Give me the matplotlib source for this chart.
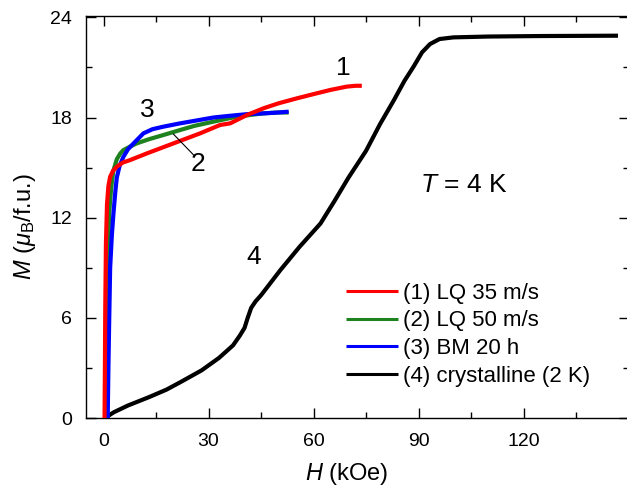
import matplotlib
matplotlib.use('Agg')
import matplotlib.pyplot as plt
from matplotlib.ticker import MultipleLocator, FixedLocator

plt.rcParams['font.family'] = ['Liberation Sans', 'DejaVu Sans']
plt.rcParams['mathtext.fontset'] = 'custom'
plt.rcParams['mathtext.rm'] = 'Liberation Sans'
plt.rcParams['mathtext.it'] = 'Liberation Sans:italic'

# (1) LQ 35 m/s
h1 = [0.3, 0.4, 0.5, 0.7, 1.0, 1.4, 1.9, 2.7, 3.8, 5.5, 7.6, 12.4, 20.0, 27.6, 31.0, 33.3,
      36.2, 41.0, 45.7, 50.0, 55.3, 60.0, 64.8, 69.5, 72.0, 73.8]
m1 = [0.0, 3.0, 6.5, 10.5, 12.8, 13.9, 14.45, 14.8, 15.05, 15.3, 15.45, 15.85, 16.45, 17.05, 17.35, 17.55,
      17.65, 18.15, 18.55, 18.85, 19.15, 19.4, 19.65, 19.85, 19.9, 19.9]
# (2) LQ 50 m/s
h2 = [0.6, 0.8, 1.0, 1.3, 1.7, 2.2, 2.8, 3.8, 4.8, 5.7, 7.5, 9.5, 13.0, 17.1, 21.9, 26.0,
      31.4, 38.1, 45.7, 50.0, 52.9]
m2 = [0.0, 4.0, 8.0, 10.5, 12.5, 13.8, 14.8, 15.5, 15.85, 16.05, 16.25, 16.45, 16.7, 16.95, 17.25, 17.5,
      17.75, 18.05, 18.25, 18.3, 18.3]
# (3) BM 20 h
h3 = [1.2, 1.4, 1.6, 1.9, 2.4, 2.9, 3.4, 3.8, 4.6, 5.7, 7.0, 8.6, 11.4, 14.0, 17.1, 21.9,
      26.0, 31.4, 36.0, 41.0, 46.0, 50.0, 52.9]
m3 = [0.0, 3.0, 5.5, 9.0, 11.0, 12.4, 13.6, 14.4, 15.1, 15.65, 16.1, 16.45, 17.05, 17.3, 17.45, 17.65,
      17.8, 18.0, 18.1, 18.2, 18.25, 18.3, 18.35]
# (4) crystalline (2 K)
h4 = [0.8, 1.5, 3.0, 7.0, 13.0, 18.0, 22.0, 28.0, 33.0, 37.0, 39.0, 40.3, 41.2, 42.2, 43.5,
      45.0, 50.5, 56.0, 62.0, 66.0, 70.0, 75.0, 79.0, 83.0, 86.0, 88.6, 91.0, 93.3, 96.0,
      100.0, 110.0, 125.0, 147.0]
m4 = [0.0, 0.15, 0.35, 0.75, 1.25, 1.7, 2.15, 2.85, 3.6, 4.35, 4.95, 5.4, 6.0, 6.6, 7.0,
      7.35, 8.85, 10.25, 11.65, 13.0, 14.4, 16.0, 17.6, 19.05, 20.2, 21.05, 21.9, 22.4, 22.7,
      22.8, 22.85, 22.88, 22.9]

labels = ['(1) LQ 35 m/s', '(2) LQ 50 m/s', '(3) BM 20 h', '(4) crystalline (2 K)']
colors = ['#ff0000', '#1e821e', '#0000ff', '#000000']
xticks = [0, 30, 60, 90, 120]

fig = plt.figure(figsize=(6.27, 4.86), dpi=100)
ax = fig.add_axes([86 / 627, 68 / 486, 542.5 / 627, 401.5 / 486])

l4, = ax.plot(h4, m4, color=colors[3], lw=3, zorder=2, solid_capstyle='butt')
l2, = ax.plot(h2, m2, color=colors[1], lw=3, zorder=3, solid_capstyle='butt')
l3, = ax.plot(h3, m3, color=colors[2], lw=3, zorder=4, solid_capstyle='butt')
l1, = ax.plot(h1, m1, color=colors[0], lw=3, zorder=5, solid_capstyle='butt')

ax.set_xlim(-5, 150)
ax.set_ylim(0, 24.05)
ax.xaxis.set_major_locator(FixedLocator(xticks))
ax.xaxis.set_minor_locator(MultipleLocator(15))
ax.yaxis.set_major_locator(MultipleLocator(6))
ax.yaxis.set_minor_locator(MultipleLocator(3))
ax.tick_params(which='both', direction='in', top=True, right=True, labelsize=14, width=1)
ax.tick_params(which='major', length=7)
ax.tick_params(which='minor', length=4)
ax.tick_params(axis='x', pad=11)
ax.tick_params(axis='y', pad=10)
for s in ax.spines.values():
    s.set_linewidth(1)

ax.set_xlabel(r'$H$ (kOe)', fontsize=17)
ax.set_ylabel(r'$M$ ($\mu_{\rm B}$/f.u.)', fontsize=17)
ax.xaxis.set_label_coords(0.481, -0.108)
ax.yaxis.set_label_coords(-0.088, 0.476)

ax.text(68.6, 20.95, '1', fontsize=19, ha='center', va='center')
ax.text(27.0, 15.2, '2', fontsize=19, ha='center', va='center')
ax.text(12.4, 18.45, '3', fontsize=19, ha='center', va='center')
ax.text(43.0, 9.65, '4', fontsize=19, ha='center', va='center')
ax.plot([20.0, 26.0], [17.0, 15.7], color='black', lw=0.8, zorder=6)
ax.text(103, 13.95, r'$T$ = 4 K', fontsize=19, ha='center', va='center')

ax.legend([l1, l2, l3, l4], labels, loc='upper left', bbox_to_anchor=(0.479, 0.337),
          frameon=False, fontsize=16, handlelength=2.34, handletextpad=0.23,
          labelspacing=0.3, borderaxespad=0, borderpad=0)
for line in ax.get_legend().get_lines():
    line.set_linewidth(2.2)

fig.savefig('out.png', dpi=100)
